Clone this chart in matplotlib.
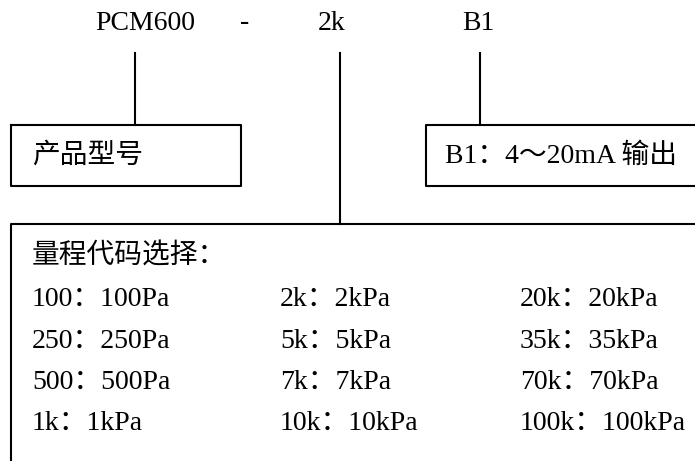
import matplotlib.pyplot as plt

plt.rcParams['font.family'] = ['Liberation Serif', 'Noto Sans CJK SC', 'DejaVu Sans']

# model code parts along the top
parts = ["PCM600", "-", "2k", "B1"]

# range selection table (3 columns x 4 rows)
codes = [["100", "250", "500", "1k"],
         ["2k", "5k", "7k", "10k"],
         ["20k", "35k", "70k", "100k"]]
ranges = [["100Pa", "250Pa", "500Pa", "1kPa"],
          ["2kPa", "5kPa", "7kPa", "10kPa"],
          ["20kPa", "35kPa", "70kPa", "100kPa"]]

model_label = "产品型号"
output_label = "B1：4～20mA 输出"
table_title = "量程代码选择："

W, H = 695, 461
fig = plt.figure(figsize=(W / 100, H / 100), dpi=100)
ax = fig.add_axes([0, 0, 1, 1])
ax.set_xlim(0, W)
ax.set_ylim(H, 0)
ax.axis("off")

fs = 20
lw = 1.5
k = "black"

# top row
part_x = [95, 240, 318, 462]
for x, p in zip(part_x, parts):
    ax.text(x, 23, p, fontsize=fs, va="center", ha="left")

# connector lines
ax.plot([135, 135], [53, 125], color=k, lw=lw)
ax.plot([340, 340], [53, 224], color=k, lw=lw)
ax.plot([480, 480], [53, 125], color=k, lw=lw)

# boxes (right/bottom edges run off the picture)
ax.plot([11, 241, 241, 11, 11], [125, 125, 186, 186, 125], color=k, lw=lw)
ax.plot([700, 426, 426, 700], [125, 125, 186, 186], color=k, lw=lw)
ax.plot([700, 11, 11], [224, 224, 470], color=k, lw=lw)

ax.text(32, 156, model_label, fontsize=fs, va="center", ha="left")
ax.text(445, 156, output_label, fontsize=fs, va="center", ha="left")

ax.text(32, 256, table_title, fontsize=fs, va="center", ha="left")
col_x = [32, 280, 520]
row_y = [299, 341, 382, 423]
for ci in range(len(codes)):
    for ri in range(len(codes[ci])):
        ax.text(col_x[ci], row_y[ri], codes[ci][ri] + "：" + ranges[ci][ri],
                fontsize=fs, va="center", ha="left")

fig.savefig("out.png", dpi=100)
